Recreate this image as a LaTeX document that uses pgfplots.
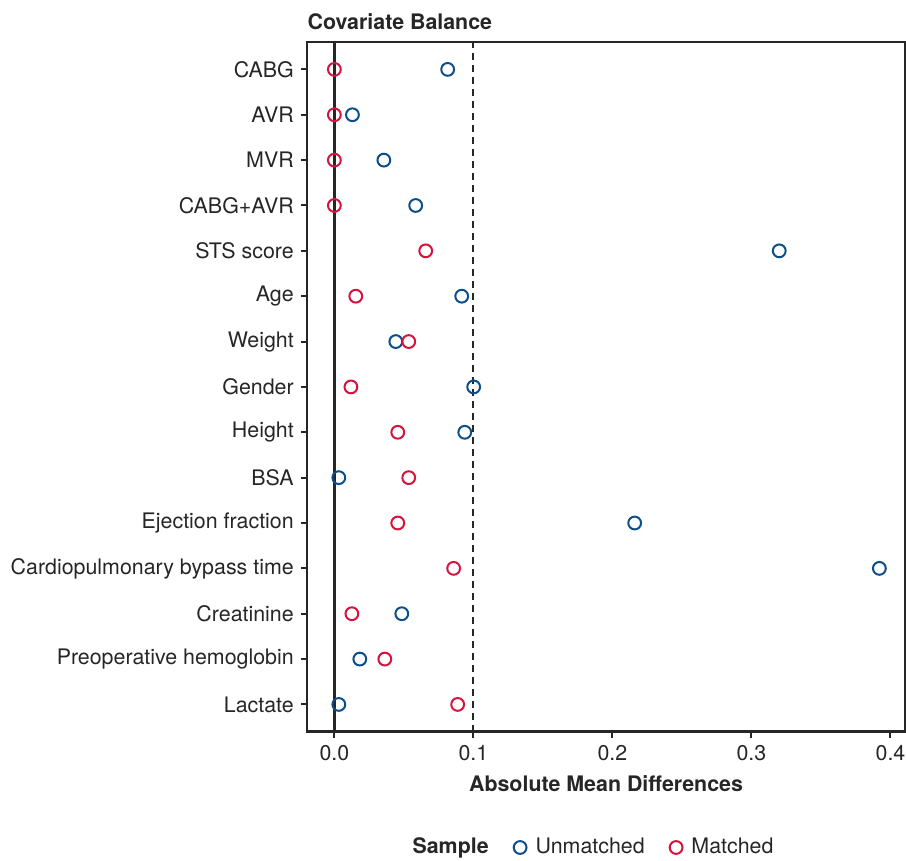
\documentclass[border=0pt]{standalone}
\usepackage{pgfplots}
\pgfplotsset{compat=1.18}
\usepackage{fontspec}
\setmainfont{TeX Gyre Heros}
\definecolor{cblue}{HTML}{0B4F8A}
\definecolor{cred}{HTML}{D6133C}
\newcommand{\fs}{\fontsize{10.7}{12.8}\selectfont}
\begin{document}
\fs
\begin{tikzpicture}
\begin{axis}[
  scale only axis,
  width=299pt, height=345pt,
  xmin=-0.0195, xmax=0.4103,
  ymin=0.4, ymax=15.6,
  clip=false,
  axis line style={line width=1.2pt, black!85},
  xtick={0,0.1,0.2,0.3,0.4},
  xticklabels={0.0,0.1,0.2,0.3,0.4},
  ytick={1,...,15},
  yticklabels={Lactate,Preoperative hemoglobin,Creatinine,Cardiopulmonary bypass time,Ejection fraction,BSA,Height,Gender,Weight,Age,STS score,CABG+AVR,MVR,AVR,CABG},
  tick align=outside,
  xtick pos=bottom, ytick pos=left,
  major tick length=3pt,
  tick style={line width=1pt, black!85},
  tick label style={font=\fs, text=black!85},
  xticklabel style={overlay},
  /pgf/number format/assume math mode=true,
  xlabel={\textbf{Absolute Mean Differences}},
  xlabel style={font=\fs, text=black!85, yshift=0pt},
  legend columns=3,
  legend style={draw=none, fill=none, inner sep=0pt, nodes={inner sep=0.5pt},
    at={(rel axis cs:0.5,-0.168)}, anchor=center, font=\fs, text=black!85,
    /tikz/every odd column/.append style={column sep=4pt},
    /tikz/every even column/.append style={column sep=12pt}},
  legend cell align=left,
]
\draw[line width=1.5pt, black!85] (axis cs:0,0.4) -- (axis cs:0,15.6);
\draw[line width=1pt, black!85, dash pattern=on 3.5pt off 2.5pt] (axis cs:0.1,0.4) -- (axis cs:0.1,15.6);
\addlegendimage{empty legend}
\addlegendentry{\hspace{-17pt}\textbf{Sample}\hspace{-4pt}}
\addplot[only marks, mark=o, mark size=3.2pt, cblue, line width=1pt] coordinates {
(0.0815,15) (0.013,14) (0.0356,13) (0.0585,12) (0.320,11) (0.0916,10) (0.0442,9) (0.1002,8) (0.0938,7) (0.0032,6) (0.216,5) (0.392,4) (0.0485,3) (0.0183,2) (0.0032,1)
};
\addlegendentry{Unmatched}
\addplot[only marks, mark=o, mark size=3.2pt, cred, line width=1pt] coordinates {
(0,15) (0,14) (0,13) (0,12) (0.0657,11) (0.0154,10) (0.0535,9) (0.0119,8) (0.0456,7) (0.0535,6) (0.0456,5) (0.0858,4) (0.0126,3) (0.0363,2) (0.0887,1)
};
\addlegendentry{Matched}
\node[anchor=south west, font=\fs\bfseries, text=black!85, inner sep=0pt] at (rel axis cs:0,1.018) {Covariate Balance};
\path (axis cs:-0.2405,-2.436) rectangle (axis cs:0.4103,16.53);
\end{axis}
\end{tikzpicture}
\end{document}
